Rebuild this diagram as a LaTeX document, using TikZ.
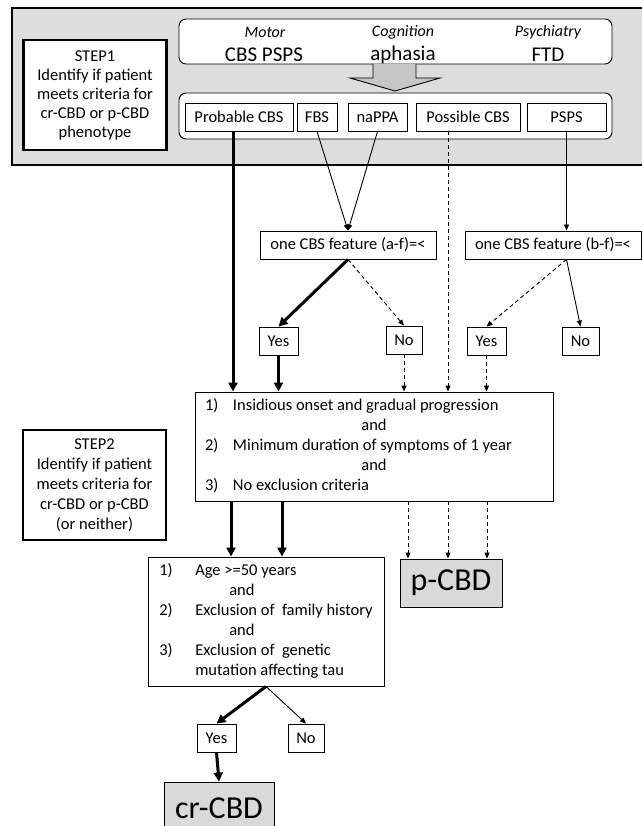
\documentclass[tikz,border=0pt]{standalone}
\usepackage{fontspec}
\setmainfont{Carlito}
\usetikzlibrary{arrows.meta}

\definecolor{panelgray}{RGB}{221,221,221}
\definecolor{boxgray}{RGB}{217,217,217}
\definecolor{arrowgray}{RGB}{198,198,198}

\begin{document}
\begin{tikzpicture}[x=1pt, y=-1pt,
    every node/.style={font=\fontsize{16.5}{19}\selectfont, inner sep=0pt},
    smallbox/.style={draw, line width=0.9pt, fill=white, minimum height=28pt},
    stepbox/.style={draw, line width=2.6pt, fill=white, align=center, minimum width=143pt, minimum height=110pt},
    groupbox/.style={draw, line width=0.9pt, fill=white, rounded corners=7pt, minimum width=433pt},
    critbox/.style={draw, line width=0.9pt, fill=white, font=\fontsize{16.5}{20}\selectfont},
    resultbox/.style={draw, line width=0.9pt, fill=boxgray, font=\fontsize{32}{38}\selectfont},
    link/.style={line width=0.9pt, -{Triangle[length=6pt,width=5pt]}},
    dashlink/.style={link, dash pattern=on 4pt off 3pt},
    thicklink/.style={line width=3pt, -{Triangle[length=9pt,width=9pt]}}]
    \useasboundingbox (0,0) rectangle (641,826);

    % Step 1 panel
    \draw[line width=1.2pt, fill=panelgray] (12,8) rectangle (660,165);
    \node[stepbox, font=\fontsize{16.5}{19}\selectfont] (step1) at (95,95)
        {STEP1\\Identify if patient\\meets criteria for\\cr-CBD or p-CBD\\phenotype};

    % Phenotype groups
    \node[groupbox, minimum height=45pt] (pheno) at (395.5,41.5) {};
    \node[font=\fontsize{16}{19}\itshape] (motor) at (265,32) {Motor};
    \node[font=\fontsize{16}{19}\itshape] (cogn) at (403,32) {Cognition};
    \node[font=\fontsize{16}{19}\itshape] (psych) at (548,32) {Psychiatry};
    \node[font=\fontsize{21}{24}\selectfont] (cbspsps) at (264,55) {CBS PSPS};
    \node[font=\fontsize{21}{24}\selectfont] (aphasia) at (403,55) {aphasia};
    \node[font=\fontsize{21}{24}\selectfont] (ftd) at (548,55) {FTD};

    % Big arrow
    \draw[line width=0.9pt, fill=arrowgray] (373,64) -- (373,78) -- (350,78) -- (395,91)
        -- (440,78) -- (416,78) -- (416,64);

    % Clinical phenotypes
    \node[groupbox, minimum height=46pt] (types) at (395.5,116) {};
    \node[smallbox, minimum width=108pt] (prob) at (239,117) {Probable CBS};
    \node[smallbox, minimum width=40pt] (fbs) at (317,117) {FBS};
    \node[smallbox, minimum width=59pt] (nappa) at (377.5,117) {naPPA};
    \node[smallbox, minimum width=104pt] (poss) at (468,117) {Possible CBS};
    \node[smallbox, minimum width=79pt] (psps) at (566.5,117) {PSPS};

    % Additional features
    \node[smallbox, minimum width=176pt] (feat1) at (348,245) {one CBS feature (a-f)=<};
    \node[smallbox, minimum width=176pt] (feat2) at (553,245) {one CBS feature (b-f)=<};
    \node[smallbox, minimum width=39pt] (yes1) at (278.5,341) {Yes};
    \node[smallbox, minimum width=36pt] (no1) at (404,340) {No};
    \node[smallbox, minimum width=39pt] (yes2) at (486.5,341) {Yes};
    \node[smallbox, minimum width=37pt] (no2) at (580.5,341) {No};

    % Step 2
    \node[stepbox, font=\fontsize{16.5}{20}\selectfont] (step2) at (94.5,485)
        {STEP2\\Identify if patient\\meets criteria for\\cr-CBD or p-CBD\\(or neither)};
    \node[critbox, minimum width=358pt, minimum height=109pt] (crit) at (374,446.5) {%
        \begin{tabular}{@{}p{28pt}@{}p{310pt}@{}}
        1) & Insidious onset and gradual progression\\
        \multicolumn{2}{@{}c@{}}{and}\\
        2) & Minimum duration of symptoms of 1 year\\
        \multicolumn{2}{@{}c@{}}{and}\\
        3) & No exclusion criteria
        \end{tabular}};
    \node[critbox, minimum width=236pt, minimum height=129pt] (age) at (266,621.5) {%
        \begin{tabular}{@{}p{36pt}@{}l@{}}
        1) & Age >=50 years\\
           & \hspace*{34pt}and\\
        2) & Exclusion of\ \ family history\\
           & \hspace*{34pt}and\\
        3) & Exclusion of\ \ genetic\\
           & mutation affecting tau
        \end{tabular}};
    \node[resultbox, minimum width=102pt, minimum height=48pt] (pcbd) at (451,583) {p-CBD};
    \node[smallbox, minimum width=39pt] (yes3) at (216.5,738) {Yes};
    \node[smallbox, minimum width=36pt] (no3) at (306,738) {No};
    \node[resultbox, minimum width=110pt, minimum height=52pt] (crcbd) at (219,808) {cr-CBD};

    % Arrows step 1
    \draw[thicklink] ([xshift=-6pt]prob.south) -- ([xshift=-6pt]prob.south |- crit.north);
    \draw[link] (fbs.south) -- (feat1.north);
    \draw[link] (nappa.south) -- (feat1.north);
    \draw[dashlink] ([xshift=-20pt]poss.south) -- ([xshift=-20pt]poss.south |- crit.north);
    \draw[link] (psps.south) -- (psps.south |- feat2.north);
    \draw[thicklink] (feat1.south) -- (yes1.north);
    \draw[dashlink] (feat1.south) -- (no1.north);
    \draw[dashlink] (psps.south |- feat2.south) -- (yes2.north);
    \draw[link] (psps.south |- feat2.south) -- (no2.north);
    \draw[thicklink] (yes1.south) -- (yes1.south |- crit.north);
    \draw[dashlink] (no1.south) -- (no1.south |- crit.north);
    \draw[dashlink] (yes2.south) -- (yes2.south |- crit.north);

    % Arrows step 2
    \draw[thicklink] ([xshift=-35pt]age.north |- crit.south) -- ([xshift=-35pt]age.north);
    \draw[thicklink] ([xshift=16pt]age.north |- crit.south) -- ([xshift=16pt]age.north);
    \draw[dashlink] ([xshift=-43pt]pcbd.north |- crit.south) -- ([xshift=-43pt]pcbd.north);
    \draw[dashlink] ([xshift=-3pt]pcbd.north |- crit.south) -- ([xshift=-3pt]pcbd.north);
    \draw[dashlink] ([xshift=36pt]pcbd.north |- crit.south) -- ([xshift=36pt]pcbd.north);
    \draw[thicklink] (age.south) -- (yes3.north);
    \draw[link] (age.south) -- (no3.north);
    \draw[thicklink] (yes3.south) -- (crcbd.north);
\end{tikzpicture}
\end{document}
